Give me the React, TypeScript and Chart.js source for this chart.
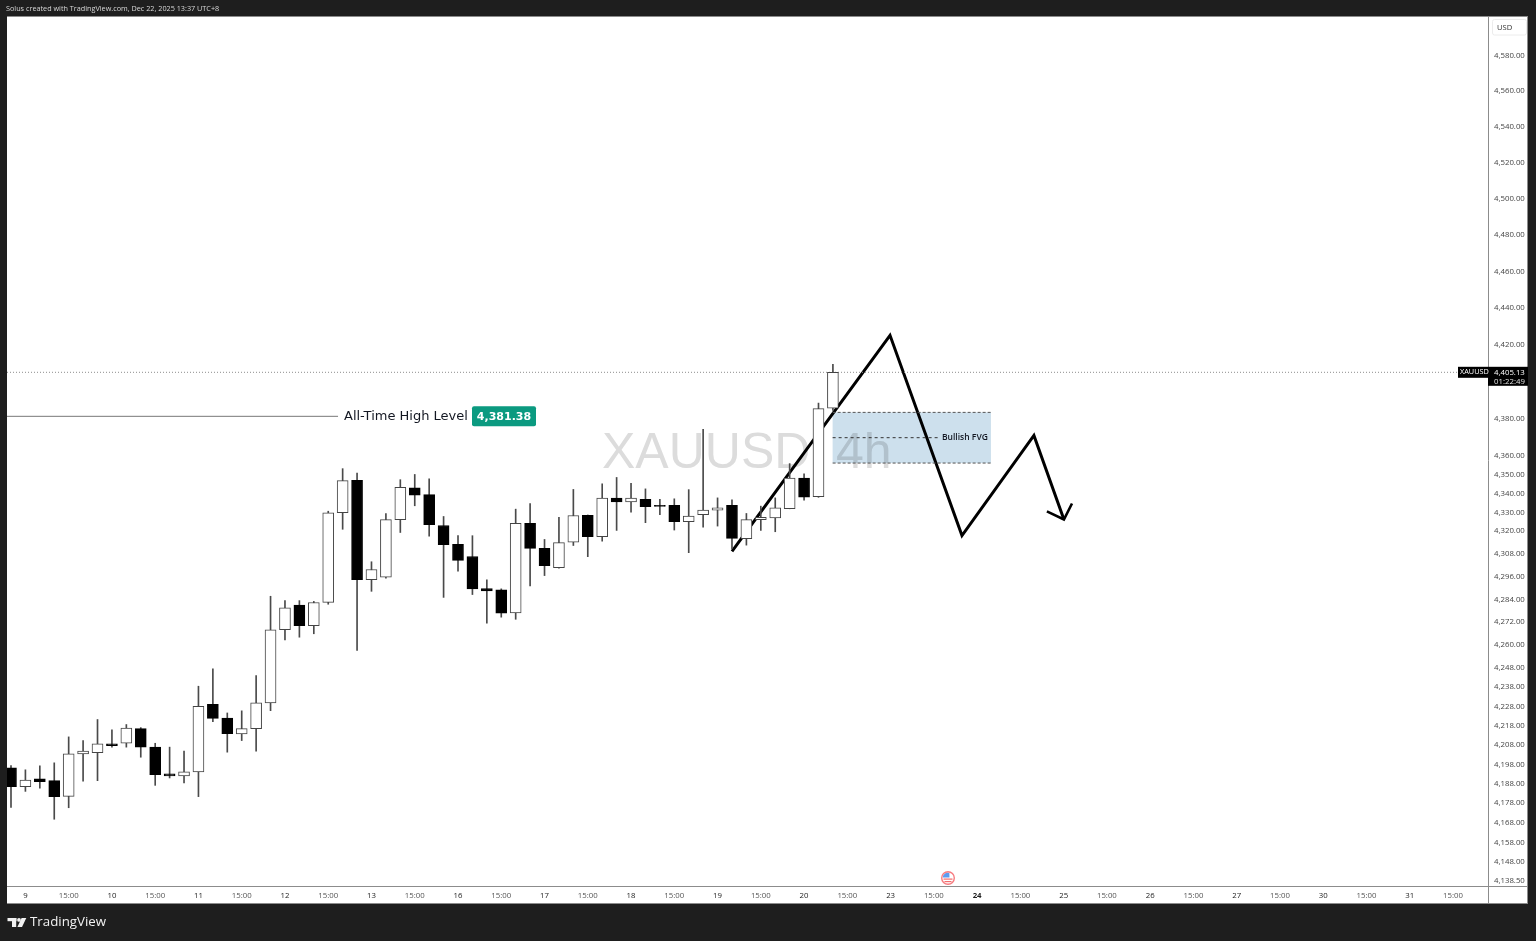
import React, { useEffect, useRef } from "react";
import Chart from "chart.js/auto";

const opens = [4196.2,4186.5,4190.6,4189.6,4181.5,4203.4,4204.0,4208.6,4208.9,4216.5,4206.9,4193.1,4192.1,4194.1,4229.1,4221.9,4213.8,4216.5,4229.8,4268.0,4281.0,4270.2,4282.4,4329.8,4347.0,4294.4,4295.7,4326.1,4343.1,4339.4,4323.0,4313.0,4306.6,4289.7,4289.0,4276.9,4324.1,4310.9,4300.7,4314.2,4328.4,4317.1,4337.6,4335.6,4336.9,4333.7,4333.7,4325.0,4328.7,4331.2,4333.7,4316.0,4326.1,4327.1,4331.9,4348.3,4338.3,4385.8];
const highs = [4197.4,4195.2,4197.2,4198.8,4212.2,4210.3,4221.2,4215.9,4218.6,4217.0,4208.9,4206.9,4204.8,4238.5,4247.6,4224.6,4225.7,4244.1,4285.6,4283.3,4283.3,4282.9,4330.6,4353.3,4350.9,4303.8,4329.3,4347.4,4350.2,4347.9,4327.8,4317.6,4317.6,4294.3,4289.5,4331.7,4334.7,4315.6,4327.4,4342.2,4328.6,4345.2,4348.6,4345.4,4342.5,4336.9,4337.2,4342.1,4374.4,4337.7,4336.7,4329.4,4333.3,4337.7,4356.0,4350.6,4388.5,4409.4];
const lows = [4175.9,4184.1,4185.8,4169.8,4175.7,4189.3,4189.6,4206.9,4206.9,4201.7,4187.2,4191.0,4188.5,4181.4,4220.1,4204.3,4210.3,4204.8,4225.8,4262.7,4264.1,4265.9,4281.4,4321.0,4257.2,4288.2,4295.1,4319.3,4333.5,4317.4,4285.0,4298.8,4286.5,4271.4,4274.6,4273.5,4291.0,4296.5,4300.4,4312.4,4306.5,4314.7,4320.4,4330.1,4324.5,4328.7,4320.6,4308.6,4322.1,4322.7,4310.7,4312.6,4320.4,4319.7,4331.9,4336.5,4338.0,4384.5];
const closes = [4186.5,4189.9,4189.1,4181.4,4203.4,4204.8,4208.6,4207.7,4216.7,4206.9,4192.7,4192.1,4194.1,4228.1,4221.8,4213.9,4216.5,4229.8,4268.0,4279.5,4270.2,4282.3,4329.8,4346.9,4294.4,4299.7,4326.1,4343.3,4339.2,4323.4,4312.8,4304.5,4289.5,4288.4,4276.7,4324.1,4310.9,4301.7,4313.9,4328.3,4317.1,4337.6,4335.6,4337.6,4333.0,4333.1,4325.0,4328.0,4331.2,4332.4,4316.2,4326.1,4327.4,4332.4,4348.3,4338.1,4385.5,4405.13];

const priceTicks = [4580,4560,4540,4520,4500,4480,4460,4440,4420,4380,4360,4350,4340,4330,4320,4308,4296,4284,4272,4260,4248,4238,4228,4218,4208,4198,4188,4178,4168,4158,4148,4138.5];
const timeTickBars = [1,4,7,10,13,16,19,22,25,28,31,34,37,40,43,46,49,52,55,58,61,64,67,70,73,76,79,82,85,88,91,94,97,100];
const timeTickLabels = ["9","15:00","10","15:00","11","15:00","12","15:00","13","15:00","16","15:00","17","15:00","18","15:00","19","15:00","20","15:00","23","15:00","24","15:00","25","15:00","26","15:00","27","15:00","30","15:00","31","15:00"];

const zigzagBars = [50.0,60.96,65.95,70.94,73.02];
const zigzagPrices = [4309.3,4425.2,4317.7,4371.1,4326.2];
const arrowBars = [71.84,73.02,73.58];
const arrowPrices = [4330.5,4326.2,4334.7];

const lastPrice = 4405.13;
const athPrice = 4381.38;
const fvgTop = 4383.5;
const fvgMid = 4369.9;
const fvgBottom = 4356.3;
const fvgStartBar = 56.98;
const fvgEndBar = 67.96;
const fvgMidEndBar = 64.3;
const athEndBar = 22.68;
const xMin = -0.277;
const xMax = 102.43;
const yMin = 4135.75;
const yMax = 4601.65;

const FONT = '"Open Sans", "Noto Sans", sans-serif';
const fmt = (v: number) => v.toLocaleString("en-US", { minimumFractionDigits: 2, maximumFractionDigits: 2 });

const chrome = {
  id: "chrome",
  beforeDraw(c: any) {
    const g = c.ctx;
    const a = c.chartArea;
    g.save();
    g.fillStyle = "#1e1e1e";
    g.fillRect(0, 0, c.width, c.height);
    g.fillStyle = "#ffffff";
    g.fillRect(a.left, a.top, 1527 - a.left, 904 - a.top);
    g.fillStyle = "#d8d8d8";
    g.font = `7.25px ${FONT}`;
    g.textBaseline = "middle";
    g.fillText("Solus created with TradingView.com, Dec 22, 2025 13:37 UTC+8", 6, 9);
    g.fillStyle = "#f2f2f2";
    g.font = `500 13.3px ${FONT}`;
    g.fillText("TradingView", 30, 922.5);
    g.fillRect(7.5, 918, 9, 3.2);
    g.fillRect(12, 918, 4.2, 9);
    g.beginPath();
    g.arc(19, 919.9, 1.9, 0, Math.PI * 2);
    g.fill();
    g.beginPath();
    g.moveTo(21.6, 918);
    g.lineTo(26.3, 918);
    g.lineTo(22, 927);
    g.lineTo(17.4, 927);
    g.closePath();
    g.fill();
    g.restore();
  },
  beforeDatasetsDraw(c: any) {
    const g = c.ctx;
    const x = c.scales.x;
    const y = c.scales.y;
    g.save();
    g.fillStyle = "#dcdcdc";
    g.font = '50px "Liberation Sans", sans-serif';
    g.textBaseline = "alphabetic";
    g.fillText("XAUUSD", 602, 468);
    g.fillText("4h", 836, 468);
    g.globalCompositeOperation = "multiply";
    g.fillStyle = "#cde0ed";
    const left = x.getPixelForValue(fvgStartBar);
    const right = x.getPixelForValue(fvgEndBar);
    const top = y.getPixelForValue(fvgTop);
    const bottom = y.getPixelForValue(fvgBottom);
    g.fillRect(left, top, right - left, bottom - top);
    g.restore();
  },
  afterDraw(c: any) {
    const g = c.ctx;
    const a = c.chartArea;
    const y = c.scales.y;
    g.save();
    g.strokeStyle = "#8c8c8c";
    g.lineWidth = 1;
    g.beginPath();
    g.moveTo(a.right + 0.5, a.top);
    g.lineTo(a.right + 0.5, 904);
    g.moveTo(a.left, a.bottom + 0.5);
    g.lineTo(1527, a.bottom + 0.5);
    g.moveTo(a.left, 903.5);
    g.lineTo(1527, 903.5);
    g.moveTo(a.left, a.top - 0.5);
    g.lineTo(1527, a.top - 0.5);
    g.moveTo(1527.5, a.top - 1);
    g.lineTo(1527.5, 904);
    g.stroke();

    // USD chip
    g.strokeStyle = "#ececec";
    g.beginPath();
    g.roundRect(1492.5, 19.5, 34, 15.5, 2);
    g.stroke();
    g.fillStyle = "#333333";
    g.font = `7.6px ${FONT}`;
    g.textBaseline = "middle";
    g.textAlign = "left";
    g.fillText("USD", 1497, 27.5);

    // last price labels
    const py = y.getPixelForValue(lastPrice);
    g.fillStyle = "#000000";
    g.fillRect(1458, py - 5.5, 30, 11);
    g.fillRect(1488, py - 5.5, 40, 19);
    g.fillStyle = "#ffffff";
    g.font = `7.3px ${FONT}`;
    g.fillText("XAUUSD", 1460, py);
    g.font = `7.8px ${FONT}`;
    g.fillText(fmt(lastPrice), 1494, py);
    g.fillStyle = "#e0e0e0";
    g.fillText("01:22:49", 1494, py + 9);

    // ATH label
    const ay = y.getPixelForValue(athPrice);
    g.fillStyle = "#131722";
    g.font = '13px "DejaVu Sans", sans-serif';
    g.fillText("All-Time High Level", 344, ay + 0.5);
    g.fillStyle = "#0b9a80";
    g.beginPath();
    g.roundRect(472, ay - 10, 64, 20, 2);
    g.fill();
    g.fillStyle = "#ffffff";
    g.font = 'bold 11px "DejaVu Sans", sans-serif';
    g.textAlign = "center";
    g.fillText(fmt(athPrice), 504, ay + 0.5);

    // FVG label
    g.fillStyle = "#131722";
    g.font = `600 8.5px ${FONT}`;
    g.textAlign = "left";
    g.fillText("Bullish FVG", 942, y.getPixelForValue(fvgMid));

    // event icon
    const ex = 948;
    const ey = 878;
    g.fillStyle = "#ffffff";
    g.beginPath();
    g.arc(ex, ey, 6.3, 0, Math.PI * 2);
    g.fill();
    g.fillStyle = "#f26d6d";
    g.fillRect(ex - 4.5, ey + 0.5, 9, 1.2);
    g.fillRect(ex - 3.5, ey + 3, 7, 1.2);
    g.fillStyle = "#5b9cf0";
    g.beginPath();
    g.moveTo(ex + 1.5, ey - 0.5);
    g.lineTo(ex - 5.2, ey - 0.5);
    g.arc(ex, ey, 5.4, Math.PI * 1.04, Math.PI * 1.58);
    g.closePath();
    g.fill();
    g.strokeStyle = "#f77c80";
    g.lineWidth = 1.4;
    g.beginPath();
    g.arc(ex, ey, 6.3, 0, Math.PI * 2);
    g.stroke();
    g.restore();
  },
};

export default function App() {
  const ref = useRef<HTMLCanvasElement>(null);
  useEffect(() => {
    document.body.style.margin = "0";
    document.body.style.background = "#1e1e1e";
    const up = opens.map((o, i) => closes[i] >= o);
    const lineBase = { type: "line", pointRadius: 0, tension: 0, order: 6 };
    const chart = new Chart(ref.current as any, {
      type: "bar",
      plugins: [chrome],
      data: {
        datasets: [
          {
            ...lineBase,
            data: [{ x: xMin, y: athPrice }, { x: athEndBar, y: athPrice }],
            borderColor: "#777777",
            borderWidth: 1,
          },
          {
            ...lineBase,
            data: [{ x: xMin, y: lastPrice }, { x: xMax, y: lastPrice }],
            borderColor: "#8c8c8c",
            borderWidth: 1,
            borderDash: [1, 2],
          },
          {
            ...lineBase,
            data: [{ x: fvgStartBar, y: fvgTop }, { x: fvgEndBar, y: fvgTop }],
            borderColor: "#555555",
            borderWidth: 1,
            borderDash: [3, 2],
          },
          {
            ...lineBase,
            data: [{ x: fvgStartBar, y: fvgMid }, { x: fvgMidEndBar, y: fvgMid }],
            borderColor: "#333333",
            borderWidth: 1,
            borderDash: [3, 3],
          },
          {
            ...lineBase,
            data: [{ x: fvgStartBar, y: fvgBottom }, { x: fvgEndBar, y: fvgBottom }],
            borderColor: "#555555",
            borderWidth: 1,
            borderDash: [3, 2],
          },
          {
            ...lineBase,
            data: zigzagBars.map((b, i) => ({ x: b, y: zigzagPrices[i] })),
            borderColor: "#000000",
            borderWidth: 3,
            borderJoinStyle: "miter",
          },
          {
            ...lineBase,
            data: arrowBars.map((b, i) => ({ x: b, y: arrowPrices[i] })),
            borderColor: "#000000",
            borderWidth: 2.6,
            borderJoinStyle: "miter",
          },
          {
            type: "bar",
            order: 5,
            grouped: false,
            barThickness: 1,
            backgroundColor: "#4a4a4a",
            borderWidth: 0,
            data: highs.map((h, i) => ({ x: i, y: [lows[i], h] })),
          },
          {
            type: "bar",
            order: 4,
            grouped: false,
            barThickness: 11,
            borderWidth: 1,
            borderSkipped: false,
            borderColor: up.map((u) => (u ? "#444444" : "#000000")),
            backgroundColor: up.map((u) => (u ? "#ffffff" : "#000000")),
            data: opens.map((o, i) => ({ x: i, y: [o, closes[i]] })),
          },
        ] as any,
      },
      options: {
        animation: false,
        responsive: false,
        devicePixelRatio: 1,
        layout: { padding: { left: 7, top: 17, right: 9, bottom: 37 } },
        plugins: { legend: { display: false }, tooltip: { enabled: false } },
        scales: {
          x: {
            type: "linear",
            offset: false,
            min: xMin,
            max: xMax,
            grid: { display: false, drawTicks: false },
            border: { display: false },
            afterBuildTicks: (s: any) => {
              s.ticks = timeTickBars.map((v) => ({ value: v }));
            },
            afterFit: (s: any) => {
              s.height = 18;
            },
            ticks: {
              autoSkip: false,
              maxRotation: 0,
              padding: 5,
              color: (ctx: any) => (ctx.tick && String(ctx.tick.label).includes(":") ? "#555555" : "#222222"),
              font: (ctx: any) => ({
                family: FONT,
                size: 7.8,
                weight: ctx.tick && ctx.tick.label === "24" ? "bold" : "normal",
              }),
              callback: (v: any) => {
                const i = timeTickBars.indexOf(Number(v));
                return i >= 0 ? timeTickLabels[i] : "";
              },
            },
          },
          y: {
            type: "logarithmic",
            position: "right",
            min: yMin,
            max: yMax,
            grid: { display: false, drawTicks: false },
            border: { display: false },
            afterBuildTicks: (s: any) => {
              s.ticks = priceTicks.map((v) => ({ value: v }));
            },
            afterFit: (s: any) => {
              s.width = 39;
            },
            ticks: {
              autoSkip: false,
              padding: 6,
              color: "#444444",
              font: { family: FONT, size: 7.8 },
              callback: (v: any) => fmt(Number(v)),
            },
          },
        },
      } as any,
    } as any);
    return () => chart.destroy();
  }, []);
  return <canvas ref={ref} width={1536} height={941} style={{ display: "block" }} />;
}
